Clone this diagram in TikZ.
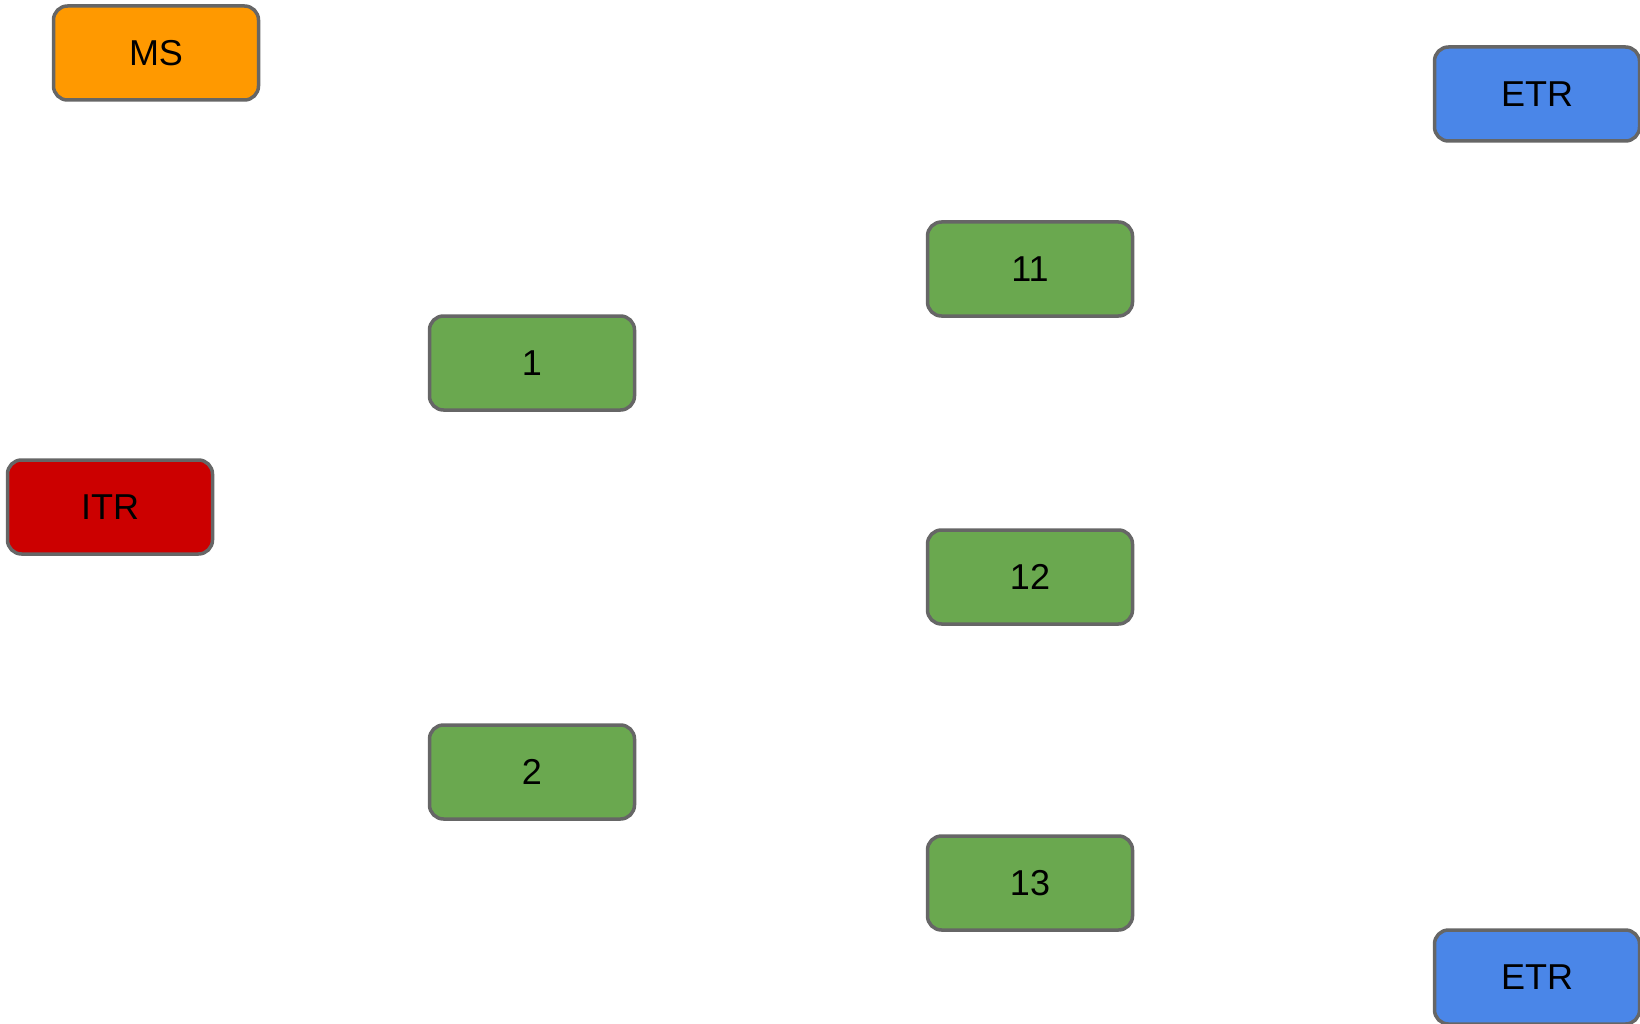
\documentclass[tikz,border=0pt]{standalone}
\usepackage{fontspec}
\setmainfont{Liberation Sans}
\definecolor{msorange}{HTML}{FF9900}
\definecolor{etrblue}{HTML}{4A86E8}
\definecolor{itrred}{HTML}{CC0000}
\definecolor{boxgreen}{HTML}{6AA84F}
\definecolor{edgegray}{HTML}{666666}
\begin{document}
\begin{tikzpicture}[x=1pt,y=-1pt,
  box/.style={draw=edgegray, line width=3.5pt, rounded corners=14pt,
    minimum width=205pt, minimum height=94pt, inner sep=0pt,
    font=\fontsize{36}{42}\selectfont, text=black}]
\useasboundingbox (0,0) rectangle (1640,1024);
\node[box, fill=msorange] (ms) at (156,53) {MS};
\node[box, fill=etrblue] (etrtop) at (1537,94) {ETR};
\node[box, fill=boxgreen] (n11) at (1030,269) {11};
\node[box, fill=boxgreen] (n1) at (532,363) {1};
\node[box, fill=itrred] (itr) at (110,507) {ITR};
\node[box, fill=boxgreen] (n12) at (1030,577) {12};
\node[box, fill=boxgreen] (n2) at (532,772) {2};
\node[box, fill=boxgreen] (n13) at (1030,883) {13};
\node[box, fill=etrblue] (etrbot) at (1537,977) {ETR};
\end{tikzpicture}
\end{document}
